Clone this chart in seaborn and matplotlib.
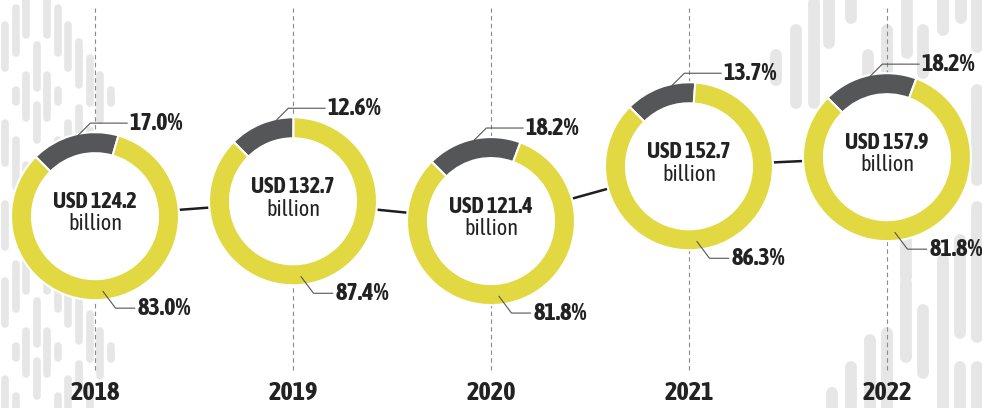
import numpy as np
import matplotlib.pyplot as plt
import seaborn as sns

# ── data ────────────────────────────────────────────────────
years = ['2018', '2019', '2020', '2021', '2022']
totals = [124.2, 132.7, 121.4, 152.7, 157.9]          # USD billion
share_other = [17.0, 12.6, 18.2, 13.7, 18.2]         # dark slice, %
share_main = [83.0, 87.4, 81.8, 86.3, 81.8]          # yellow slice, %

# decorative background strokes (pixel space), left block repeats every 256 px
deco_left_x = [5, 5, 5, 16, 16, 16, 26, 26, 26, 37, 37, 37, 47, 47, 47,
               58, 58, 58, 68, 68, 68, 79, 79, 79, 90, 90, 100, 111]
deco_left_y0 = [25, 123, 204, 8, 90, 140, 0, 75, 165, 45, 105, 190, 0, 75, 165,
                8, 90, 140, 25, 123, 204, 42, 108, 180, 58, 130, 75, 90]
deco_left_y1 = [68, 163, 247, 53, 102, 187, 35, 118, 210, 88, 140, 235, 35, 118, 210,
                53, 102, 187, 68, 163, 247, 85, 133, 230, 103, 175, 120, 103]
deco_right_x = [776, 796, 814, 829, 851, 868, 887, 907, 923, 943, 961, 977, 977,
                977, 960, 943, 923, 906, 906, 887, 870, 851, 832, 960, 977]
deco_right_y0 = [55, 30, 3, 0, 0, 55, 30, 0, 30, 0, 0, 0, 90,
                 207, 240, 260, 310, 283, 233, 333, 340, 367, 393, 367, 367]
deco_right_y1 = [80, 103, 103, 43, 18, 90, 73, 53, 73, 30, 18, 47, 180,
                 337, 333, 408, 373, 357, 277, 408, 408, 408, 408, 408, 408]

YELLOW = '#e2d942'
DARK = '#545658'
DECO = '#e6e6e6'
INK = '#222222'

sns.set_theme(style='white')
plt.rcParams['font.family'] = ['Asap Condensed', 'DejaVu Sans']

fig = plt.figure(figsize=(9.82, 4.08), dpi=100)

# ── background pattern ──────────────────────────────────────
bg = fig.add_axes([0, 0, 1, 1], zorder=0)
bg.set_xlim(0, 982)
bg.set_ylim(408, 0)
bg.axis('off')
for off in (0, 256):
    bg.vlines(deco_left_x, np.array(deco_left_y0) + off, np.array(deco_left_y1) + off,
              color=DECO, lw=5.5, capstyle='round')
bg.vlines(deco_right_x, deco_right_y0, deco_right_y1, color=DECO, lw=8.5, capstyle='round')

# ── main axes: years vs total ───────────────────────────────
ax = fig.add_axes([0, 0, 1, 1], zorder=1)
pos = np.arange(len(years))
ax.set_xlim(-0.48, 4.48)
ax.set_ylim(14.6, 247.7)
sns.lineplot(x=pos, y=totals, ax=ax, color='#1e1e1e', lw=1.8, legend=False)
for p in pos:
    ax.axvline(p, ymin=1 - 370 / 408, ymax=1 - 8 / 408, color='#8a8a8a',
               lw=0.8, dashes=(4, 3))
    ax.text(p, 1 - 393 / 408, years[p], transform=ax.get_xaxis_transform(),
            ha='center', va='center', fontsize=19, fontweight='bold', color=INK)
ax.axis('off')

# ── donuts ──────────────────────────────────────────────────
w = 168 / 982
h = 168 / 408
to_fig = ax.transData + fig.transFigure.inverted()

for i in pos:
    cx, cy = to_fig.transform((pos[i], totals[i]))
    dax = fig.add_axes([cx - w / 2, cy - h / 2, w, h], zorder=2)
    wedges, _ = dax.pie([share_other[i], share_main[i]], colors=[DARK, YELLOW],
                        startangle=135, counterclock=False, radius=1,
                        wedgeprops=dict(width=0.25, edgecolor='white', linewidth=1.5))
    dax.add_patch(plt.Circle((0, 0), 0.75, color='white', zorder=0))
    dax.set_xlim(-1, 1)
    dax.set_ylim(-1, 1)
    dax.set_aspect('equal')
    dax.axis('off')

    # centre label
    dax.text(0, 0.10, f'USD {totals[i]:.1f}', ha='center', va='baseline',
             fontsize=16, fontweight='bold', color=INK)
    dax.text(0, -0.17, 'billion', ha='center', va='baseline',
             fontsize=16, color=INK)

    # dark slice label (upper) and yellow slice label (lower)
    a = np.deg2rad(105)
    sx, sy = 0.95 * np.cos(a), 0.95 * np.sin(a)
    ex, ey = sx + 0.19, sy + 0.19
    tx = ex + 0.44
    dax.plot([sx, ex, tx], [sy, ey, ey], color='#555555', lw=0.8, clip_on=False)
    dax.text(tx + 0.03, ey, f'{share_other[i]:.1f}%', ha='left', va='center',
             fontsize=17.5, fontweight='bold', color=INK, clip_on=False)

    a = np.deg2rad(-84)
    sx, sy = 0.9 * np.cos(a), 0.9 * np.sin(a)
    ex, ey = sx + 0.15, sy - 0.2
    tx = ex + 0.23
    dax.plot([sx, ex, tx], [sy, ey, ey], color='#555555', lw=0.8, clip_on=False)
    dax.text(tx + 0.03, ey, f'{share_main[i]:.1f}%', ha='left', va='center',
             fontsize=17.5, fontweight='bold', color=INK, clip_on=False)

fig.savefig('out.png', dpi=100)
